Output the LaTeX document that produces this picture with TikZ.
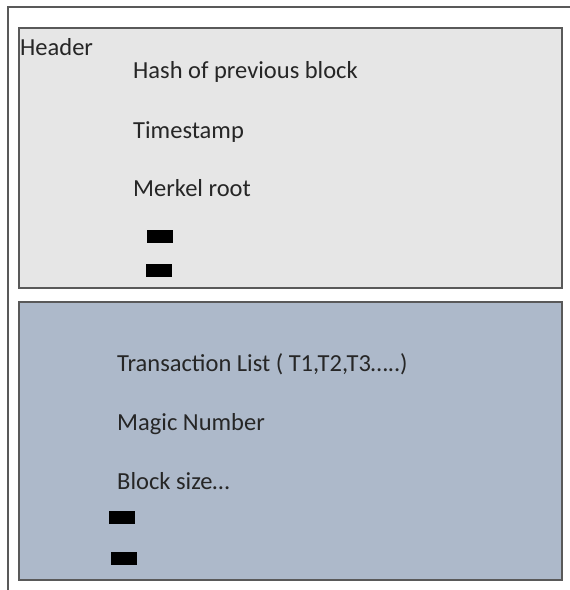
\documentclass[tikz,border=0pt]{standalone}
\usepackage{fontspec}
\setmainfont{Carlito}
\usepackage{xcolor}
\usetikzlibrary{positioning}

\begin{document}
\begin{tikzpicture}[
  x=1pt, y=-1pt,
  font=\fontsize{24.5}{29}\selectfont,
  part/.style={
    draw=black!65, line width=1.6pt, fill=#1,
    minimum width=543pt, inner sep=0pt},
  field/.style={anchor=base west, inner sep=0pt, text=black!85},
  bar/.style={fill=black, draw=none, minimum width=26pt, minimum height=13pt, inner sep=0pt}
]

% ---- palette ----
\definecolor{cHead}{HTML}{E6E6E6}
\definecolor{cBody}{HTML}{ADB9CA}

\useasboundingbox (0,0) rectangle (570,590);

% ---- outer frame (only left and top edges show) ----
\coordinate (fb) at (8,590);
\coordinate (fc) at (8,7);
\coordinate (fr) at (570,7);
\draw[black!65, line width=1.4pt] (fb) -- (fc) -- (fr);

% ================= header block =================
\node[part=cHead, minimum height=260pt] (head) at (290.5,158) {};
\node[field] (hlbl) at (20,55)    {Header};
\node[field] (prev) at (133,78)   {Hash of previous block};
\node[field] (time) at (133,138)  {Timestamp};
\node[field] (root) at (133,196)  {Merkel root};
\node[bar] (hb1) at (160,236.5) {};
\node[bar] (hb2) at (159,270.5) {};

% ================= body block =================
\node[part=cBody, minimum height=278pt] (body) at (290.5,441) {};
\node[field] (txl)  at (117,371)  {Transaction List ( T1,T2,T3…..)};
\node[field] (magc) at (117,430)  {Magic Number};
\node[field] (size) at (117,489)  {Block size…};
\node[bar] (bb1) at (122,517.5) {};
\node[bar] (bb2) at (123.5,558) {};

\end{tikzpicture}
\end{document}
